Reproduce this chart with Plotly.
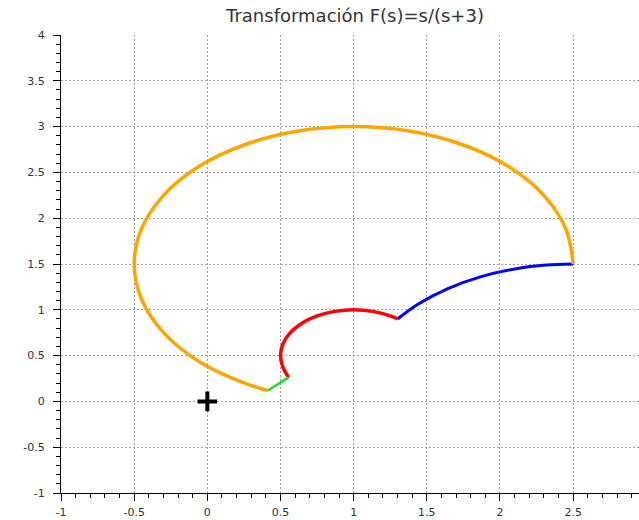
import plotly.graph_objects as go

# ---- data ----
orange_x = [2.5, 2.449, 2.299, 2.061, 1.75, 1.388, 1.0, 0.612, 0.25, -0.061, -0.299, -0.449, -0.5,
            -0.449, -0.299, -0.061, 0.25, 0.414]
orange_y = [1.5, 1.888, 2.25, 2.561, 2.799, 2.949, 3.0, 2.949, 2.799, 2.561, 2.25, 1.888, 1.5,
            1.112, 0.75, 0.439, 0.201, 0.119]

green_x = [0.414, 0.485, 0.556]
green_y = [0.119, 0.190, 0.262]

red_x = [0.556, 0.517, 0.5, 0.517, 0.567, 0.646, 0.75, 0.871, 1.0, 1.129, 1.25, 1.3]
red_y = [0.262, 0.371, 0.5, 0.629, 0.75, 0.854, 0.933, 0.983, 1.0, 0.983, 0.933, 0.9]

blue_x = [1.3, 1.439, 1.64, 1.866, 2.112, 2.317, 2.5]
blue_y = [0.9, 1.061, 1.229, 1.359, 1.449, 1.489, 1.5]

origin_x = [0]
origin_y = [0]

x_ticks = [-1, -0.5, 0, 0.5, 1, 1.5, 2, 2.5]
x_ticktext = ["-1", "-0.5", "0", "0.5", "1", "1.5", "2", "2.5"]
y_ticks = [-1, -0.5, 0, 0.5, 1, 1.5, 2, 2.5, 3, 3.5, 4]
y_ticktext = ["-1", "-0.5", "0", "0.5", "1", "1.5", "2", "2.5", "3", "3.5", "4"]

title_text = "Transformación F(s)=s/(s+3)"

fig = go.Figure()
fig.add_trace(go.Scatter(x=blue_x, y=blue_y, mode="lines",
                         line=dict(color="#0000FF", width=3, shape="spline")))
fig.add_trace(go.Scatter(x=red_x, y=red_y, mode="lines",
                         line=dict(color="#FF0000", width=3.5, shape="spline")))
fig.add_trace(go.Scatter(x=green_x, y=green_y, mode="lines",
                         line=dict(color="#22DD22", width=2.5)))
fig.add_trace(go.Scatter(x=orange_x, y=orange_y, mode="lines",
                         line=dict(color="#FFA500", width=3.5, shape="spline")))
fig.add_trace(go.Scatter(x=origin_x, y=origin_y, mode="markers",
                         marker=dict(symbol="cross-thin", size=14, color="black",
                                     line=dict(color="black", width=4))))

font_family = "DejaVu Sans, Verdana, sans-serif"
axis_common = dict(
    showline=True, linecolor="black", linewidth=1,
    ticks="outside", ticklen=7, tickcolor="black", tickwidth=1,
    showgrid=True, gridcolor="#a0a0a0", griddash="2px,2px", gridwidth=1,
    zeroline=False, tickfont=dict(family=font_family, size=11, color="#333333"),
    minor=dict(dtick=0.1, ticks="outside", ticklen=4, tickcolor="black", showgrid=False),
)

fig.update_layout(
    width=639, height=520,
    margin=dict(l=61, r=0, t=35, b=27),
    paper_bgcolor="white", plot_bgcolor="white",
    showlegend=False,
    title=dict(text=title_text, x=355 / 639, xanchor="center", y=1 - 16 / 520, yanchor="middle",
               font=dict(family=font_family, size=18, color="#333333")),
    xaxis=dict(range=[-1, 2.95], tickmode="array", tickvals=x_ticks, ticktext=x_ticktext,
               ticklabelstandoff=2, **axis_common),
    yaxis=dict(range=[-1, 4], tickmode="array", tickvals=y_ticks, ticktext=y_ticktext,
               ticklabelstandoff=6, **axis_common),
)

fig.write_html("out.html")
